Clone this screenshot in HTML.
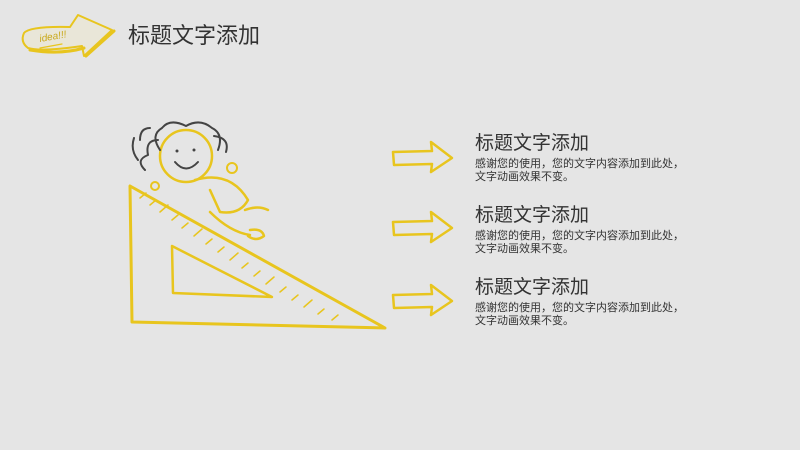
<!DOCTYPE html>
<html><head><meta charset="utf-8"><style>
body{margin:0;width:800px;height:450px;background:#e5e5e5;position:relative;overflow:hidden;font-family:"Liberation Sans","Noto Sans CJK SC",sans-serif;color:#333}
.t{position:absolute;font-size:19px;color:#333;line-height:22px}
.d{position:absolute;font-size:11px;line-height:13px;color:#333}
</style></head><body>
<svg width="800" height="450" style="position:absolute;left:0;top:0" fill="none" stroke-linecap="round" stroke-linejoin="round">
<!-- idea arrow -->
<path d="M24,33 Q30,26 70,27 L78,15 L112,30 L84,56 L82,46 Q40,52 28,48 Q20,42 24,33Z" stroke="#e8c51e" stroke-width="2" fill="#e9e6d8"/>
<path d="M30,50 Q60,55 84,48 M86,56 L114,31" stroke="#e8c51e" stroke-width="3"/>
<text x="40" y="42" font-size="10" fill="#c9a818" stroke="none" font-style="italic" transform="rotate(-10 40 42)">idea!!!</text>
<path d="M40,48 L62,44" stroke="#e8c51e" stroke-width="1.2"/>
<!-- ruler -->
<path d="M130,186 L132,322 L385,328 Z" stroke="#e8c51e" stroke-width="3"/>
<path d="M172,246 L173,293 L272,297 Z" stroke="#e8c51e" stroke-width="2.5"/>
<path d="M140,198 l6,-5 M150,205 l6,-5 M160,212 l8,-7 M172,220 l6,-5 M182,228 l6,-5 M194,236 l8,-7 M206,244 l6,-5 M218,252 l6,-5 M230,260 l8,-7 M242,268 l6,-5 M254,276 l6,-5 M266,284 l8,-7 M280,292 l6,-5 M292,300 l6,-5 M304,307 l8,-7 M318,314 l6,-5 M332,320 l6,-5" stroke="#e8c51e" stroke-width="1.5"/>
<!-- girl -->
<circle cx="186" cy="156" r="26" stroke="#e8c51e" stroke-width="2.5" fill="#e5e5e5"/>
<path d="M160,150 Q150,135 162,128 Q170,118 186,126 Q200,118 212,128 Q224,134 218,150 M158,140 Q145,140 148,155 Q135,160 145,170 M214,136 Q230,138 226,152 M134,138 Q130,150 138,160 M150,128 Q140,128 140,140" stroke="#444" stroke-width="2"/>
<path d="M175,162 Q186,175 198,162" stroke="#444" stroke-width="2"/>
<circle cx="177" cy="151" r="1.5" fill="#444" stroke="none"/><circle cx="194" cy="150" r="1.5" fill="#444" stroke="none"/>
<path d="M195,180 Q230,170 248,200 Q240,215 220,212 L210,190" stroke="#e8c51e" stroke-width="2.5"/>
<path d="M210,212 Q230,232 250,235 M245,210 Q258,205 268,210 M250,230 Q262,228 264,236 Q256,242 248,236" stroke="#e8c51e" stroke-width="2.5"/>
<circle cx="155" cy="186" r="4" stroke="#e8c51e" stroke-width="2"/>
<circle cx="232" cy="168" r="5" stroke="#e8c51e" stroke-width="2"/>
<!-- arrows -->
<g stroke="#e8c51e" stroke-width="2.5">
<path d="M393,152 L432,151 L431,142 L452,158 L431,172 L432,164 L394,165 Z"/>
<path d="M393,222 L432,221 L431,212 L452,228 L431,242 L432,234 L394,235 Z"/>
<path d="M393,295 L432,294 L431,285 L452,301 L431,315 L432,307 L394,308 Z"/>
</g>
</svg>
<div class="t" style="left:128px;top:23px;font-size:22px;line-height:26px">标题文字添加</div>
<div class="t" style="left:475px;top:133px">标题文字添加</div>
<div class="d" style="left:475px;top:158px">感谢您的使用，您的文字内容添加到此处，<br>文字动画效果不变。</div>
<div class="t" style="left:475px;top:205px">标题文字添加</div>
<div class="d" style="left:475px;top:230px">感谢您的使用，您的文字内容添加到此处，<br>文字动画效果不变。</div>
<div class="t" style="left:475px;top:277px">标题文字添加</div>
<div class="d" style="left:475px;top:302px">感谢您的使用，您的文字内容添加到此处，<br>文字动画效果不变。</div>
</body></html>
